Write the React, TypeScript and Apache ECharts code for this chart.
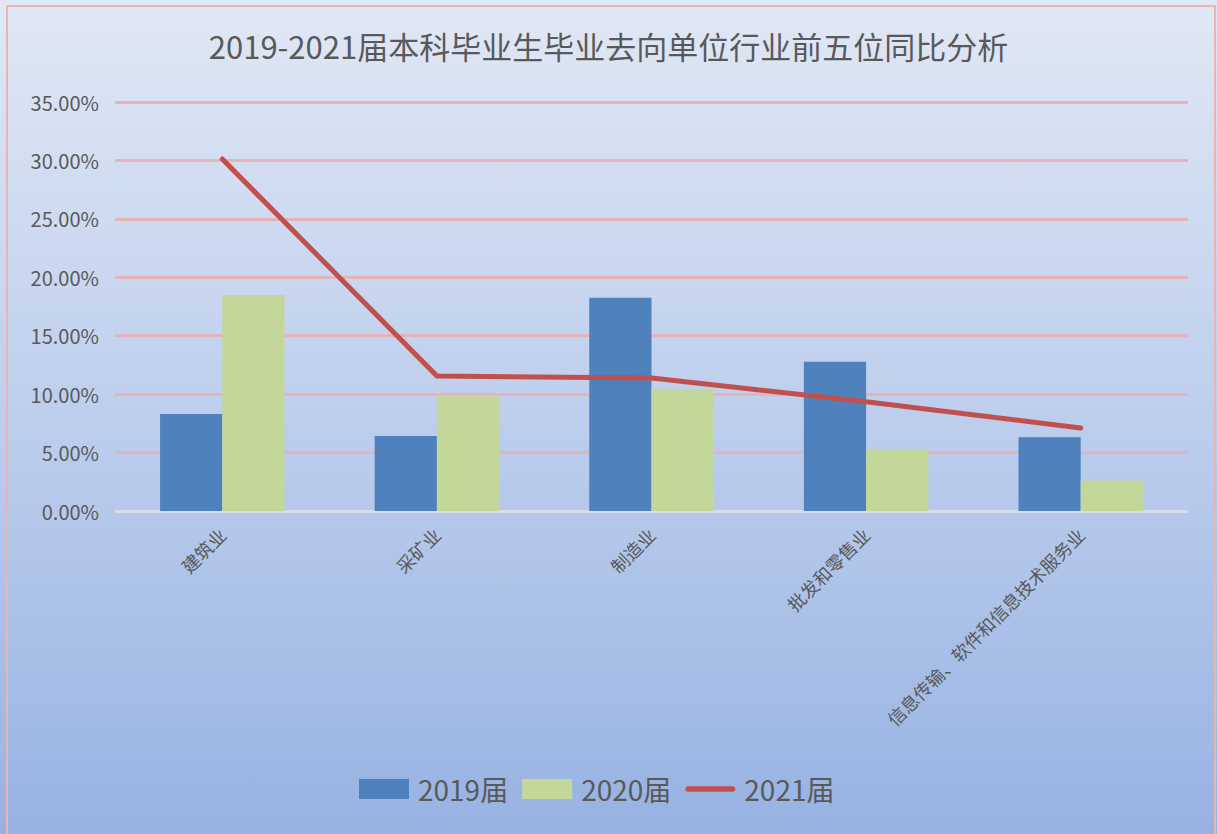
import React, { useEffect, useRef } from "react";
import * as echarts from "echarts";

const categories = ["建筑业", "采矿业", "制造业", "批发和零售业", "信息传输、软件和信息技术服务业"];
const values2019 = [8.3, 6.42, 18.25, 12.78, 6.31];
const values2020 = [18.48, 9.93, 10.44, 5.31, 2.6];
const values2021 = [30.12, 11.55, 11.38, 9.35, 7.1];
const seriesNames = ["2019届", "2020届", "2021届"];
const titleText = "2019-2021届本科毕业生毕业去向单位行业前五位同比分析";

export default function App() {
  const ref = useRef<HTMLDivElement>(null);
  useEffect(() => {
    if (!ref.current) return;
    const chart = echarts.init(ref.current, null, { renderer: "svg" });
    const font = "'Noto Sans CJK SC', 'Noto Sans', sans-serif";
    const pink = "#e6b3b8";
    chart.setOption({
      animation: false,
      backgroundColor: new echarts.graphic.LinearGradient(0, 0, 0, 1, [
        { offset: 0, color: "#e1e8f5" },
        { offset: 0.6, color: "#b6c9eb" },
        { offset: 1, color: "#97b2e2" },
      ]),
      graphic: [
        {
          type: "rect",
          shape: { x: 7, y: 6, width: 1208, height: 840 },
          style: { fill: "none", stroke: "#e8b4b4", lineWidth: 2 },
          silent: true,
        },
      ],
      title: {
        text: titleText,
        left: "center",
        top: 30,
        padding: 0,
        textStyle: { fontFamily: font, fontSize: 31, fontWeight: "normal", color: "#595959" },
      },
      legend: {
        bottom: 26,
        left: 354,
        itemWidth: 50,
        itemHeight: 20,
        itemGap: 14,
        textStyle: { fontFamily: font, fontSize: 28, color: "#595959", padding: [0, 0, 0, 4] },
        data: [
          { name: seriesNames[0], icon: "rect" },
          { name: seriesNames[1], icon: "rect" },
          {
            name: seriesNames[2],
            icon: "path://M3,0 L51,0 A3,3 0 0 1 51,6 L3,6 A3,3 0 0 1 3,0 Z",
            itemStyle: { color: "#c0504d" },
          },
        ],
      },
      grid: { left: 115, right: 29, top: 102, bottom: 323, containLabel: false },
      xAxis: {
        type: "category",
        data: categories,
        axisLine: { show: false },
        axisTick: { show: false },
        axisLabel: {
          rotate: 45,
          interval: 0,
          margin: 20,
          fontFamily: font,
          fontSize: 18,
          color: "#595959",
        },
      },
      yAxis: {
        type: "value",
        min: 0,
        max: 35,
        interval: 5,
        axisLine: { show: false },
        axisTick: { show: false },
        axisLabel: {
          formatter: (v: number) => v.toFixed(2) + "%",
          fontFamily: font,
          fontSize: 20,
          color: "#595959",
          margin: 16,
        },
        splitLine: {
          lineStyle: {
            color: ["#d9dde6", pink, pink, pink, pink, pink, pink, pink],
            width: 3,
          },
        },
      },
      series: [
        {
          name: seriesNames[0],
          type: "bar",
          data: values2019,
          barGap: "0%",
          barCategoryGap: "42%",
          itemStyle: { color: "#4f81bd" },
        },
        {
          name: seriesNames[1],
          type: "bar",
          data: values2020,
          itemStyle: { color: "#c4d79b" },
        },
        {
          name: seriesNames[2],
          type: "line",
          data: values2021,
          symbol: "none",
          lineStyle: { color: "#c0504d", width: 5, cap: "round", join: "round" },
          itemStyle: { color: "#c0504d" },
        },
      ],
    });
    return () => chart.dispose();
  }, []);
  return (
    <div
      ref={ref}
      style={{ position: "absolute", left: 0, top: 0, width: 1217, height: 834 }}
    />
  );
}
